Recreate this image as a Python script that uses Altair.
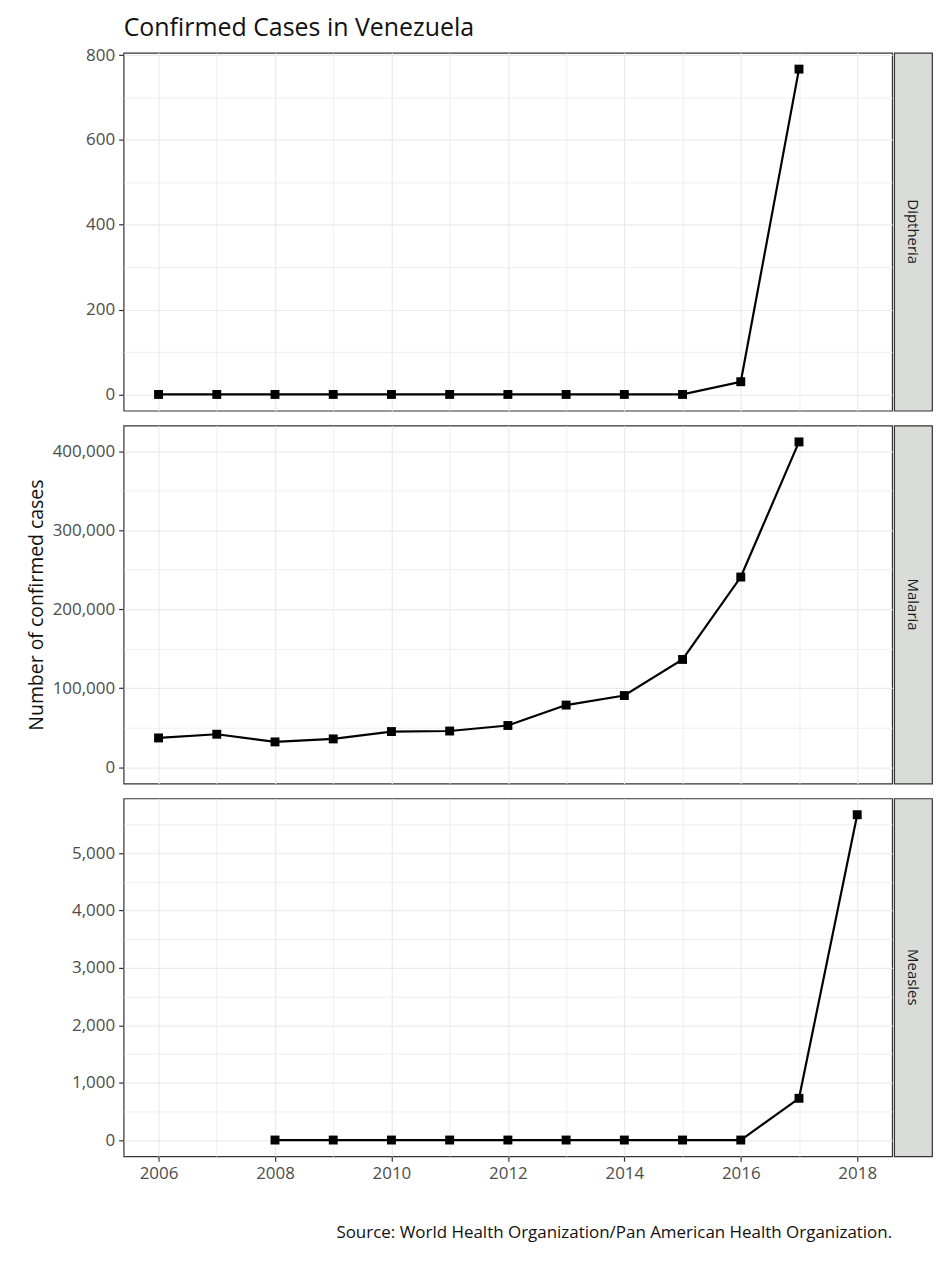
import altair as alt
import pandas as pd

FONT = "Open Sans"

years = list(range(2006, 2019))

diphtheria_years = list(range(2006, 2018))
diphtheria_cases = [0, 0, 0, 0, 0, 0, 0, 0, 0, 0, 30, 767]

malaria_years = list(range(2006, 2018))
malaria_cases = [37062, 41749, 32037, 35828, 45155, 45824, 52803, 78643, 90708, 136402, 240613, 411586]

measles_years = list(range(2008, 2019))
measles_cases = [0, 0, 0, 0, 0, 0, 0, 0, 0, 727, 5668]

diphtheria_ticks = [0, 100, 200, 300, 400, 500, 600, 700, 800]
malaria_ticks = [0, 50000, 100000, 150000, 200000, 250000, 300000, 350000, 400000]
measles_ticks = [0, 500, 1000, 1500, 2000, 2500, 3000, 3500, 4000, 4500, 5000, 5500]

PANEL_W = 771
PANEL_H = 359
STRIP_W = 38


def expanded(values):
    # ggplot style: include zero, pad 5% on both ends
    lo = min(0, min(values))
    hi = max(values)
    pad = (hi - lo) * 0.05
    return [lo - pad, hi + pad]


def is_minor(test, on_minor, on_major):
    return {"condition": {"test": test, "value": on_minor}, "value": on_major}


def panel(xs, ys, ticks, step, show_x, y_title=None):
    df = pd.DataFrame({"year": xs, "cases": ys})
    x_minor = "datum.value % 2 === 1"
    y_minor = f"datum.value % {2 * step} !== 0"
    x_axis = alt.Axis(
        values=years,
        labelExpr="datum.value % 2 === 0 ? datum.value : ''",
        labels=show_x,
        ticks=show_x,
        tickOpacity=is_minor(x_minor, 0, 1),
        gridWidth=is_minor(x_minor, 0.8, 1.2),
        title=None,
    )
    y_axis = alt.Axis(
        values=ticks,
        labelExpr=f"datum.value % {2 * step} === 0 ? format(datum.value, ',') : ''",
        tickOpacity=is_minor(y_minor, 0, 1),
        gridWidth=is_minor(y_minor, 0.8, 1.2),
        title=y_title if y_title else None,
    )
    base = alt.Chart(df).encode(
        x=alt.X("year:Q", scale=alt.Scale(domain=[2005.4, 2018.6], nice=False, zero=False), axis=x_axis),
        y=alt.Y("cases:Q", scale=alt.Scale(domain=expanded(ys), nice=False, zero=False), axis=y_axis),
    )
    line = base.mark_line(color="black", strokeWidth=2.2)
    pts = base.mark_square(color="black", size=80, opacity=1)
    return (line + pts).properties(width=PANEL_W, height=PANEL_H)


def strip(name):
    df = pd.DataFrame({"disease": [name]})
    return alt.Chart(df).mark_text(
        angle=90, font=FONT, fontSize=15, color="#1a1a1a", baseline="middle", align="center"
    ).encode(text="disease:N").properties(
        width=STRIP_W,
        height=PANEL_H,
        view=alt.ViewBackground(fill="#d9dcd9", stroke="#333333", strokeWidth=1.2),
    )


p1 = panel(diphtheria_years, diphtheria_cases, diphtheria_ticks, 100, False).properties(
    title=alt.TitleParams("Confirmed Cases in Venezuela", anchor="start", frame="group",
                          fontSize=25, font=FONT, fontWeight="normal", color="#111111", offset=5)
)
p2 = panel(malaria_years, malaria_cases, malaria_ticks, 50000, False,
           y_title="Number of confirmed cases")
p3 = panel(measles_years, measles_cases, measles_ticks, 500, True).properties(
    title=alt.TitleParams("Source: World Health Organization/Pan American Health Organization.",
                          orient="bottom", anchor="end", frame="group",
                          fontSize=17, font=FONT, fontWeight="normal", color="#111111", offset=44)
)

chart = alt.concat(
    p1, strip("Diptheria"),
    p2, strip("Malaria"),
    p3, strip("Measles"),
    columns=2,
    spacing={"row": 13, "column": 0},
).properties(
    padding={"left": 17, "top": 5, "right": 5, "bottom": 5},
    background="white",
).configure_view(
    stroke="#333333", strokeWidth=1.2
).configure_axis(
    labelFont=FONT, labelFontSize=17, labelColor="#4d4d4d",
    titleFont=FONT, titleFontSize=19.5, titleFontWeight="normal", titleColor="#111111",
    titlePadding=6,
    tickColor="#333333", tickSize=5, tickWidth=1.2,
    gridColor="#ebebeb", domain=False, labelPadding=4,
)

chart.save("out.html", embed_options={"renderer": "svg", "actions": False})
